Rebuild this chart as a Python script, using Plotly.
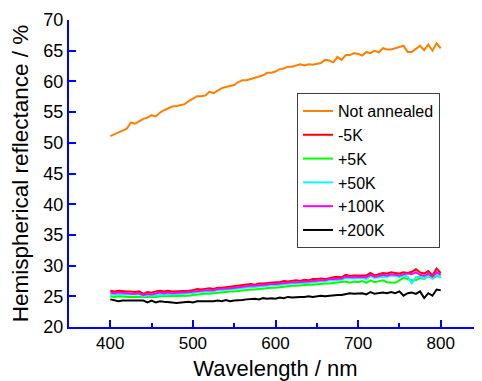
import plotly.graph_objects as go

wavelength = list(range(400, 805, 5))

not_annealed = [51.1, 51.4, 51.7, 52.1, 52.3, 53.3, 53.1, 53.5, 53.9, 54.1,
                54.5, 54.3, 54.9, 55.3, 55.6, 55.9, 56.0, 56.2, 56.3, 56.8,
                57.2, 57.6, 57.6, 57.7, 58.3, 58.1, 58.5, 58.9, 59.1, 59.3,
                59.4, 59.9, 60.2, 60.2, 60.4, 60.6, 60.8, 61.0, 61.4, 61.4,
                61.6, 62.0, 62.1, 62.4, 62.4, 62.6, 62.8, 62.6, 62.8, 62.7,
                62.9, 63.0, 63.5, 63.4, 63.1, 64.0, 63.5, 64.3, 64.3, 64.6,
                64.5, 64.2, 64.8, 64.6, 65.0, 64.7, 65.4, 65.2, 65.2, 65.4,
                65.5, 65.8, 64.8, 64.8, 65.3, 65.8, 65.1, 66.0, 65.0, 66.2, 65.4]

minus_5k = [25.9, 25.8, 25.9, 25.8, 25.8, 25.8, 25.7, 25.8, 25.4, 25.7,
            25.6, 25.8, 25.9, 25.8, 25.9, 25.8, 25.8, 25.9, 25.9, 25.9,
            26.0, 26.2, 26.1, 26.2, 26.3, 26.2, 26.4, 26.4, 26.5, 26.6,
            26.6, 26.8, 26.9, 26.9, 27.0, 26.9, 27.1, 27.1, 27.2, 27.2,
            27.3, 27.3, 27.5, 27.4, 27.5, 27.6, 27.5, 27.7, 27.6, 27.8,
            27.8, 27.9, 27.8, 28.0, 28.1, 28.2, 28.1, 28.5, 28.3, 28.4,
            28.4, 28.5, 28.4, 28.8, 28.4, 28.6, 28.8, 28.7, 28.9, 28.8,
            28.7, 28.9, 28.8, 29.0, 29.4, 28.9, 28.7, 29.1, 28.4, 29.5, 28.8]

plus_5k = [25.0, 24.9, 25.0, 24.9, 24.9, 24.9, 24.9, 24.9, 24.8, 24.9,
           24.9, 24.9, 25.0, 25.0, 25.0, 25.0, 25.0, 25.1, 25.1, 25.1,
           25.2, 25.3, 25.3, 25.4, 25.4, 25.5, 25.6, 25.6, 25.7, 25.8,
           25.8, 25.9, 26.0, 26.0, 26.1, 26.1, 26.2, 26.3, 26.3, 26.4,
           26.4, 26.5, 26.6, 26.6, 26.7, 26.7, 26.8, 26.8, 26.9, 26.9,
           27.0, 27.0, 27.1, 27.1, 27.2, 27.2, 27.3, 27.4, 27.2, 27.4,
           27.3, 27.5, 27.2, 27.6, 27.3, 27.5, 27.6, 27.3, 27.2, 27.2,
           27.6, 28.0, 27.8, 27.6, 27.6, 28.0, 27.8, 28.3, 27.9, 28.3, 28.2]

plus_50k = [25.3, 25.3, 25.3, 25.2, 25.3, 25.2, 25.2, 25.3, 25.0, 25.2,
            25.1, 25.2, 25.3, 25.3, 25.3, 25.3, 25.3, 25.4, 25.4, 25.5,
            25.5, 25.7, 25.7, 25.8, 25.8, 25.8, 26.0, 26.0, 26.1, 26.1,
            26.2, 26.3, 26.4, 26.4, 26.5, 26.5, 26.6, 26.7, 26.7, 26.8,
            26.8, 26.9, 27.0, 27.0, 27.1, 27.1, 27.1, 27.2, 27.2, 27.3,
            27.4, 27.4, 27.4, 27.6, 27.6, 27.7, 27.7, 28.0, 27.9, 27.9,
            28.0, 28.0, 27.8, 28.3, 28.0, 28.1, 28.2, 28.1, 28.4, 28.3,
            28.1, 28.4, 28.2, 27.1, 28.1, 28.2, 27.9, 28.4, 27.9, 28.5, 28.0]

plus_100k = [25.6, 25.5, 25.6, 25.5, 25.5, 25.4, 25.4, 25.5, 25.2, 25.4,
             25.3, 25.5, 25.6, 25.5, 25.6, 25.5, 25.6, 25.6, 25.6, 25.7,
             25.8, 25.9, 25.9, 26.0, 26.0, 26.0, 26.2, 26.2, 26.3, 26.3,
             26.4, 26.5, 26.6, 26.6, 26.7, 26.7, 26.8, 26.9, 26.9, 27.0,
             27.0, 27.1, 27.2, 27.2, 27.3, 27.3, 27.3, 27.4, 27.4, 27.5,
             27.6, 27.6, 27.6, 27.8, 27.8, 27.9, 27.9, 28.2, 28.1, 28.1,
             28.2, 28.2, 28.1, 28.5, 28.2, 28.3, 28.5, 28.4, 28.6, 28.5,
             28.4, 28.6, 28.7, 28.6, 28.9, 28.5, 28.3, 28.7, 28.2, 28.9, 28.5]

plus_200k = [24.5, 24.3, 24.2, 24.3, 24.3, 24.2, 24.3, 24.2, 24.3, 24.0,
             24.3, 24.0, 24.2, 24.1, 24.1, 24.0, 23.9, 24.0, 24.0, 24.1,
             24.0, 24.2, 24.2, 24.2, 24.1, 24.2, 24.3, 24.2, 24.4, 24.2,
             24.3, 24.3, 24.4, 24.5, 24.6, 24.6, 24.5, 24.7, 24.6, 24.7,
             24.6, 24.8, 24.7, 24.9, 24.8, 24.9, 24.9, 24.9, 25.0, 24.9,
             25.0, 25.1, 25.0, 25.1, 25.1, 25.2, 25.2, 25.3, 25.5, 25.4,
             25.4, 25.5, 25.3, 25.7, 25.4, 25.5, 25.6, 25.5, 25.7, 25.5,
             25.8, 25.1, 25.5, 25.6, 25.4, 25.8, 24.7, 25.5, 25.1, 26.1, 26.0]

series_names = ["Not annealed", "-5K", "+5K", "+50K", "+100K", "+200K"]
series_values = [not_annealed, minus_5k, plus_5k, plus_50k, plus_100k, plus_200k]
series_colors = ["#FF8000", "#FF0000", "#00FF00", "#00FFFF", "#FF00FF", "#000000"]

fig = go.Figure()
for name, vals, col in zip(series_names, series_values, series_colors):
    fig.add_trace(go.Scatter(x=wavelength, y=vals, name=name, mode="lines",
                             line=dict(color=col, width=2)))

font_family = "Liberation Sans, Arial, sans-serif"
fig.update_layout(
    template="none",
    width=474, height=373,
    margin=dict(l=61, r=0, t=12, b=54, pad=0),
    paper_bgcolor="white", plot_bgcolor="white",
    font=dict(family=font_family, color="black"),
    showlegend=True,
    legend=dict(x=0.552, y=0.762, xanchor="left", yanchor="top",
                bgcolor="white", bordercolor="#404040", borderwidth=1,
                font=dict(size=16, family=font_family, color="black"),
                itemwidth=30, tracegroupgap=0),
)
fig.update_xaxes(
    range=[350, 850], tickmode="linear", tick0=400, dtick=100,
    ticks="inside", ticklen=7, tickwidth=2,
    tickcolor="#0000FF", showline=True, linecolor="#0000FF", linewidth=2,
    showgrid=False, zeroline=False, tickfont=dict(size=17, color="black"),
    minor=dict(dtick=50, tick0=400, ticks="inside", ticklen=4,
               tickwidth=2, tickcolor="#0000FF", showgrid=False),
    title=dict(text="Wavelength / nm", font=dict(size=22), standoff=12),
)
fig.update_yaxes(
    range=[20, 70], tickmode="linear", tick0=20, dtick=5,
    ticks="inside", ticklen=7, tickwidth=2,
    tickcolor="#0000FF", showline=True, linecolor="#0000FF", linewidth=2,
    showgrid=False, zeroline=False, tickfont=dict(size=18, color="black"),
    title=dict(text="Hemispherical reflectance / %", font=dict(size=22.5), standoff=8),
)

fig.write_html("out.html")
